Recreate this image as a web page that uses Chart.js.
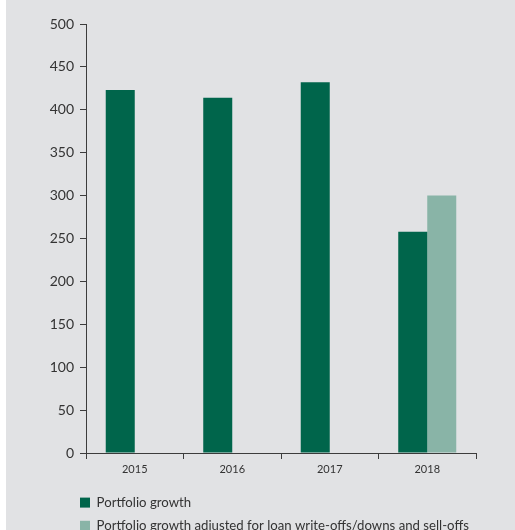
<!DOCTYPE html>
<html>
<head>
<meta charset="utf-8">
<script src="https://cdn.jsdelivr.net/npm/chart.js@4/dist/chart.umd.min.js"></script>
<style>
  html, body { margin: 0; padding: 0; background: #ffffff; }
  #wrap { position: relative; width: 515px; height: 530px; }
</style>
</head>
<body>
<div id="wrap"><canvas id="c" width="515" height="530"></canvas></div>
<script>
const categories = ['2015', '2016', '2017', '2018'];
const portfolioGrowth = [423, 414, 432, 258];
const adjustedGrowth = [null, null, null, 300];
const seriesLabels = ['Portfolio growth', 'Portfolio growth adjusted for loan write-offs/downs and sell-offs'];
const yTicks = [0, 50, 100, 150, 200, 250, 300, 350, 400, 450, 500];

const bgPlugin = {
  id: 'bg',
  beforeDraw(chart) {
    const ctx = chart.ctx;
    ctx.save();
    ctx.fillStyle = '#e1e2e4';
    ctx.fillRect(6, 0, chart.width - 6, chart.height);
    ctx.restore();
  }
};

// shift the legend so its boxes line up under the y-axis ticks
const legendShift = {
  id: 'legendShift',
  afterLayout(chart) {
    if (chart.legend) {
      chart.legend.left = 70;
      chart.legend.right = chart.width - 6;
      chart.legend.top += 1;
    }
  }
};

new Chart(document.getElementById('c'), {
  type: 'bar',
  data: {
    labels: categories,
    datasets: [
      { label: seriesLabels[0], data: portfolioGrowth, backgroundColor: '#00654b', borderWidth: 0 },
      { label: seriesLabels[1], data: adjustedGrowth, backgroundColor: '#89b4a7', borderWidth: 0 }
    ]
  },
  options: {
    responsive: false,
    animation: false,
    devicePixelRatio: 1,
    categoryPercentage: 0.595,
    barPercentage: 1,
    layout: { padding: { left: 6, right: 39, top: 24, bottom: 0 } },
    plugins: {
      tooltip: { enabled: false },
      legend: {
        position: 'bottom',
        align: 'start',
        maxHeight: 45,
        labels: {
          boxWidth: 10,
          boxHeight: 10,
          padding: 10,
          color: '#333333',
          font: { family: 'Lato', size: 13.2 }
        }
      }
    },
    scales: {
      x: {
        afterFit(s) { s.height = 32; },
        grid: { display: true, drawOnChartArea: false, drawTicks: true, tickLength: 6, color: '#3c3c3c', offset: true },
        border: { display: true, color: '#3c3c3c', width: 1 },
        ticks: { color: '#333333', font: { family: 'Lato', size: 11 }, padding: 4 }
      },
      y: {
        min: 0,
        max: 500,
        afterFit(s) { s.width = 80; },
        afterBuildTicks(s) { s.ticks = yTicks.map(v => ({ value: v })); },
        grid: { display: true, drawOnChartArea: false, drawTicks: true, tickLength: 6, color: '#3c3c3c' },
        border: { display: true, color: '#3c3c3c', width: 1 },
        ticks: { color: '#333333', font: { family: 'Lato', size: 14 }, padding: 6, stepSize: 50 }
      }
    }
  },
  plugins: [bgPlugin, legendShift]
});
</script>
</body>
</html>
